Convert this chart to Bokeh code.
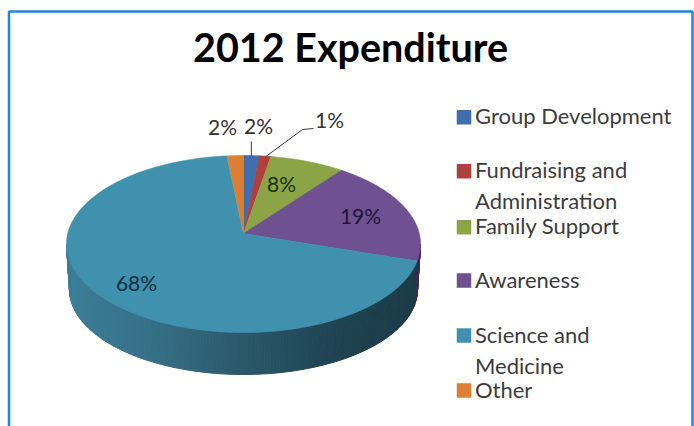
import math
from bokeh.plotting import figure
from bokeh.models import Range1d
from bokeh.core.properties import value
from bokeh.embed import file_html
from bokeh.resources import INLINE

title = "2012 Expenditure"
categories = ["Group Development", "Fundraising and Administration", "Family Support",
              "Awareness", "Science and Medicine", "Other"]
shares = [1.6, 1.2, 7.7, 19.4, 68.4, 1.7]
slice_colors = ["#3f6fae", "#b0403d", "#8ba446", "#6f5192", "#3f91ae", "#dc7f32"]
legend_lines = [["Group Development"], ["Fundraising and", "Administration"], ["Family Support"],
                ["Awareness"], ["Science and", "Medicine"], ["Other"]]

FONT = "Lato"
X0, Y0, W, H = 0, 0, 694, 426
p = figure(width=W, height=H, output_backend="svg", toolbar_location=None,
           x_range=Range1d(X0, X0 + W), y_range=Range1d(Y0 + H, Y0),
           x_axis_type="linear", min_border=0, outline_line_color=None,
           background_fill_color="#ffffff", border_fill_color="#ffffff")
p.axis.visible = False
p.grid.visible = False

# frame
p.line([8.5, 8.5, 692, 692], [Y0 + H, 11, 11, Y0 + H], line_color="#1f86dc", line_width=2.5)

# pie geometry on screen
CX, CY, RX, RY = 243.0, 243.5, 177.0, 88.5
AX, AY = 243.0, 233.0
CX2, CY2, RX2, RY2 = 243.0, 289.0, 174.0, 85.0


def rim(pct):
    th = 2 * math.pi * pct / 100
    dx, dy = RX * math.sin(th), -RY * math.cos(th)
    oy = AY - CY
    a = (dx / RX) ** 2 + (dy / RY) ** 2
    b = 2 * oy * dy / RY ** 2
    c = (oy / RY) ** 2 - 1
    s = (-b + math.sqrt(b * b - 4 * a * c)) / (2 * a)
    return AX + dx * s, AY + dy * s


# side wall
stops = [(0.0, (0x3b, 0x7e, 0x98)), (0.25, (0x35, 0x6f, 0x86)), (0.5, (0x2a, 0x58, 0x6b)),
         (0.75, (0x1f, 0x44, 0x52)), (1.0, (0x1b, 0x3a, 0x47))]


def wall_color(f):
    for (f0, c0), (f1, c1) in zip(stops, stops[1:]):
        if f <= f1:
            u = (f - f0) / (f1 - f0)
            return "#%02x%02x%02x" % tuple(round(a + (b - a) * u) for a, b in zip(c0, c1))
    return "#%02x%02x%02x" % stops[-1][1]


boundary_y = rim(sum(shares[:4]))[1]
xs, ys, cs = [], [], []
N = 180
for i in range(N):
    t0 = math.radians(90 + 180 * i / N)
    t1 = math.radians(90 + 180 * (i + 1) / N)
    top0 = (CX + RX * math.sin(t0), CY - RY * math.cos(t0))
    top1 = (CX + RX * math.sin(t1), CY - RY * math.cos(t1))
    bot0 = (CX2 + RX2 * math.sin(t0), CY2 - RY2 * math.cos(t0))
    bot1 = (CX2 + RX2 * math.sin(t1), CY2 - RY2 * math.cos(t1))
    xs.append([top0[0], top1[0], bot1[0], bot0[0]])
    ys.append([top0[1], top1[1], bot1[1], bot0[1]])
    if top0[0] > CX and top0[1] < boundary_y:
        cs.append("#3c2b52")
    else:
        cs.append(wall_color((top0[0] - (CX - RX)) / (2 * RX)))
p.patches(xs, ys, fill_color=cs, line_color=cs, line_width=1)

# top face
wx, wy = [], []
acc = 0.0
for s in shares:
    n = max(4, int(s * 3))
    pts = [rim(acc + s * k / n) for k in range(n + 1)]
    wx.append([AX] + [q[0] for q in pts])
    wy.append([AY] + [q[1] for q in pts])
    acc += s
p.patches(wx, wy, fill_color=slice_colors, line_color=slice_colors, line_width=0.6)

# leader lines
g_rim = rim(shares[0] / 2)
p.line([g_rim[0], g_rim[0]], [g_rim[1] + 1, 141], line_color="#3a3a3a", line_width=1)
r_rim = rim(shares[0] + shares[1] / 2)
p.line([r_rim[0], 302, 313], [r_rim[1] + 1, 129, 128], line_color="#3a3a3a", line_width=1)

# value labels
label_x = [258, 329, 281, 360, 136, 222]
label_y = [124.5, 118.5, 183, 214.5, 281.5, 125.5]
label_c = ["#333333", "#333333", "#1d2e0e", "#20143a", "#12303f", "#333333"]
p.text(label_x, label_y, text=[f"{round(s)}%" for s in shares], text_color=label_c,
       text_font=value(FONT), text_font_size=value("21px"),
       text_align="center", text_baseline="middle")

# title
p.text([350], [46], text=[title], text_font=value(FONT), text_font_style="bold",
       text_font_size=value("39.5px"), text_color="#000000",
       text_align="center", text_baseline="middle")

# legend
sq_y = [116.7, 170.7, 226.7, 280, 335, 390]
p.scatter([463.5] * 6, sq_y, marker="square", size=14.5, fill_color=slice_colors, line_color=None)
tx, ty, tt = [], [], []
for y, lines in zip(sq_y, legend_lines):
    for j, line in enumerate(lines):
        tx.append(474.5)
        ty.append(y - 1.5 + j * 31)
        tt.append(line)
p.text(tx, ty, text=tt, text_font=value(FONT), text_font_size=value("22px"), text_color="#3c3c3c",
       text_align="left", text_baseline="middle")

open("out.html", "w").write(file_html(p, INLINE))
